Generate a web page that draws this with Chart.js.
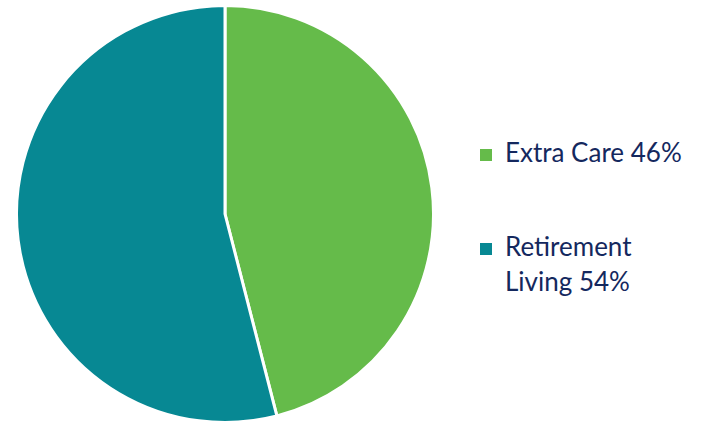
<!DOCTYPE html>
<html>
<head>
<meta charset="utf-8">
<script src="https://cdn.jsdelivr.net/npm/chart.js@4"></script>
<style>
  html, body { margin: 0; padding: 0; background: #fff; }
  body { width: 702px; height: 424px; position: relative; overflow: hidden; }
  #pieWrap { position: absolute; left: 15px; top: 4px; width: 420px; height: 420px; }
  #legend { position: absolute; left: 480px; top: 0; font-family: Lato, "Open Sans", sans-serif; font-size: 26px; color: #14285e; }
  .item { position: absolute; left: 0; white-space: nowrap; line-height: 35px; }
  .swatch { position: absolute; left: 0; width: 12px; height: 12px; }
  .text { position: absolute; left: 25px; }
</style>
</head>
<body>
<div id="pieWrap"><canvas id="pieChart"></canvas></div>
<div id="legend"></div>
<script>
const categories = ['Extra Care', 'Retirement Living'];
const shares = [46, 54];
const colors = ['#65bb4a', '#078893'];
// legend lines, wrapped the same way as the printed labels
const legendLines = [['Extra Care 46%'], ['Retirement', 'Living 54%']];

const pieChart = new Chart(document.getElementById('pieChart'), {
  type: 'pie',
  data: {
    labels: categories,
    datasets: [{
      data: shares,
      backgroundColor: colors,
      borderColor: '#fff',
      borderWidth: 3
    }]
  },
  options: {
    responsive: true,
    maintainAspectRatio: false,
    animation: false,
    plugins: {
      legend: { display: false },
      tooltip: { enabled: false }
    }
  }
});

// HTML legend built from the chart data
const legendTops = [135, 229];
const legend = document.getElementById('legend');
pieChart.data.labels.forEach((label, i) => {
  const item = document.createElement('div');
  item.className = 'item';
  item.style.top = legendTops[i] + 'px';
  const sw = document.createElement('div');
  sw.className = 'swatch';
  sw.style.background = pieChart.data.datasets[0].backgroundColor[i];
  sw.style.top = '14px';
  const txt = document.createElement('div');
  txt.className = 'text';
  txt.innerHTML = legendLines[i].join('<br>');
  item.appendChild(sw);
  item.appendChild(txt);
  legend.appendChild(item);
});
</script>
</body>
</html>
